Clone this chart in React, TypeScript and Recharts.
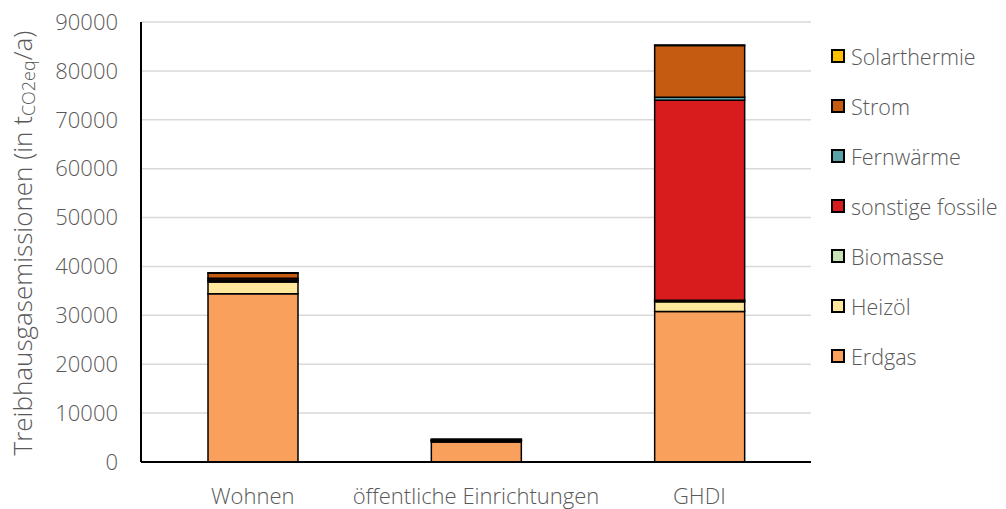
import React from "react";
import {
  BarChart,
  Bar,
  XAxis,
  YAxis,
  CartesianGrid,
  Legend,
} from "recharts";

// categories and stacked series (t CO2eq / a)
const categories = ["Wohnen", "öffentliche Einrichtungen", "GHDI"];
const erdgas = [34400, 4100, 30800];
const heizoel = [2400, 200, 2000];
const biomasse = [300, 100, 300];
const sonstigeFossile = [400, 100, 40900];
const fernwaerme = [100, 50, 600];
const strom = [1000, 150, 10600];
const solarthermie = [100, 0, 100];
const yTicks = [0, 10000, 20000, 30000, 40000, 50000, 60000, 70000, 80000, 90000];

const series = [
  { key: "Erdgas", values: erdgas, color: "#F8A05C" },
  { key: "Heizöl", values: heizoel, color: "#FFE79C" },
  { key: "Biomasse", values: biomasse, color: "#C6E2B3" },
  { key: "sonstige fossile", values: sonstigeFossile, color: "#D81C1E" },
  { key: "Fernwärme", values: fernwaerme, color: "#5BA2A6" },
  { key: "Strom", values: strom, color: "#C55A11" },
  { key: "Solarthermie", values: solarthermie, color: "#FFC000" },
];

const data = categories.map((name, i) => {
  const row: any = { name };
  series.forEach((s) => {
    row[s.key] = s.values[i];
  });
  return row;
});

const FONT = "'Open Sans', sans-serif";
const TEXT = "#595959";

const YLabel = ({ viewBox }: any) => {
  const cx = 22;
  const cy = viewBox ? viewBox.y + viewBox.height / 2 + 1 : 243;
  return (
    <text
      x={cx}
      y={cy}
      transform={`rotate(-90, ${cx}, ${cy})`}
      textAnchor="middle"
      dominantBaseline="central"
      fill={TEXT}
      fontFamily={FONT}
      fontWeight={300}
      fontSize={26}
    >
      Treibhausgasemissionen (in t
      <tspan dy={6} fontSize={18}>
        CO2eq
      </tspan>
      <tspan dy={-6}>/a)</tspan>
    </text>
  );
};

const LegendContent = () => (
  <div style={{ fontFamily: FONT, fontWeight: 300, fontSize: 21.5, color: TEXT }}>
    {[...series].reverse().map((s) => (
      <div
        key={s.key}
        style={{ display: "flex", alignItems: "center", height: 50 }}
      >
        <span
          style={{
            display: "inline-block",
            width: 10,
            height: 10,
            background: s.color,
            border: "2px solid #000",
            marginRight: 6,
          }}
        />
        <span>{s.key}</span>
      </div>
    ))}
  </div>
);

export default function App() {
  return (
    <div style={{ position: "absolute", left: 0, top: 0, background: "#fff" }}>
      <BarChart
        width={1006}
        height={509}
        data={data}
        barSize={90}
        margin={{ top: 22, right: 195, left: 0, bottom: 0 }}
      >
        <CartesianGrid
          vertical={false}
          stroke="#D9D9D9"
          strokeWidth={1.5}
        />
        <XAxis
          dataKey="name"
          height={47}
          axisLine={{ stroke: "#000", strokeWidth: 2 }}
          tickLine={false}
          tick={{ fontSize: 22, fill: TEXT, fontFamily: FONT, fontWeight: 300 }}
          tickMargin={20}
          interval={0}
        />
        <XAxis
          xAxisId="top"
          orientation="top"
          dataKey="name"
          height={0}
          axisLine={{ stroke: "#000", strokeWidth: 2 }}
          tick={false}
          tickLine={false}
        />
        <YAxis
          width={141}
          domain={[0, 90000]}
          ticks={yTicks}
          interval={0}
          axisLine={{ stroke: "#000", strokeWidth: 2 }}
          tickLine={false}
          tickMargin={17}
          tick={{ fontSize: 22, fill: TEXT, fontFamily: FONT, fontWeight: 300 }}
          label={<YLabel />}
        />
        <YAxis
          yAxisId="right"
          orientation="right"
          width={0}
          domain={[0, 90000]}
          axisLine={{ stroke: "#000", strokeWidth: 2 }}
          tick={false}
          tickLine={false}
        />
        <Legend
          layout="vertical"
          align="center"
          verticalAlign="middle"
          content={<LegendContent />}
          wrapperStyle={{ left: 831, top: 31, width: 175 }}
        />
        {series.map((s) => (
          <Bar
            key={s.key}
            dataKey={s.key}
            stackId="a"
            fill={s.color}
            stroke="#000"
            strokeWidth={1.5}
            isAnimationActive={false}
          />
        ))}
      </BarChart>
    </div>
  );
}
